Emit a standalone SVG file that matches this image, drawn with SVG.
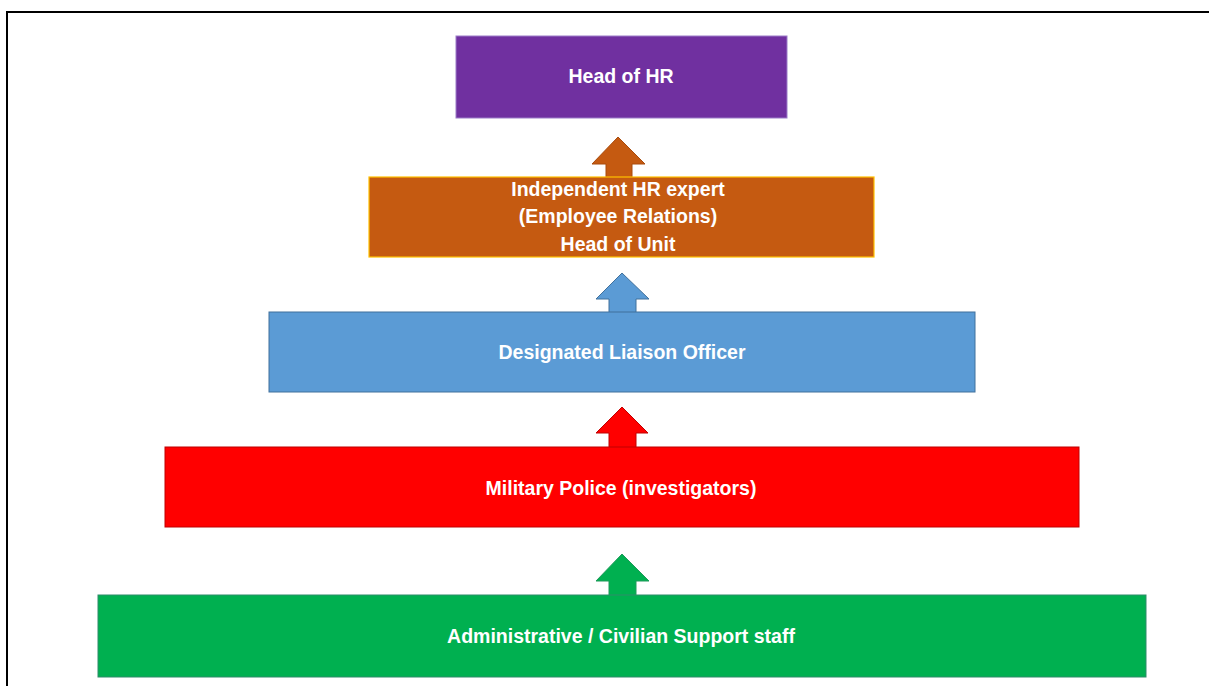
<svg xmlns="http://www.w3.org/2000/svg" width="1209" height="686" viewBox="0 0 1209 686">
<style>
.lbl{font-family:"Liberation Sans",Arial,sans-serif;font-weight:bold;font-size:19.5px;fill:#ffffff;text-anchor:middle}
</style>
<rect x="0" y="0" width="1209" height="686" fill="#ffffff"/>
<rect x="7" y="12" width="1215" height="700" fill="none" stroke="#000000" stroke-width="2"/>
<g id="connectors">
<polygon points="618,137 592,164 606,164 606,180 632,180 632,164 645,164" fill="#C55A11" stroke="#A84A0C" stroke-width="1"/>
<polygon points="622,273 596,299 609,299 609,315 636,315 636,299 649,299" fill="#5B9BD5" stroke="#41719C" stroke-width="1"/>
<polygon points="622,407 596,433 609,433 609,450 636,450 636,433 648,433" fill="#FF0000" stroke="#C00000" stroke-width="1"/>
<polygon points="622,554 596,581 609,581 609,598 636,598 636,581 649,581" fill="#00B050" stroke="#1E9A5A" stroke-width="1"/>
</g>
<g id="head-hr">
<rect x="456" y="36" width="331" height="82" fill="#7030A0" stroke="#9B7CC8" stroke-width="1"/>
<text class="lbl" x="621" y="83">Head of HR</text>
</g>
<g id="hr-expert">
<rect x="369" y="177" width="505" height="80" fill="#C55A11" stroke="#FFC000" stroke-width="1.2"/>
<text class="lbl" x="618" y="196">Independent HR expert</text>
<text class="lbl" x="618" y="223">(Employee Relations)</text>
<text class="lbl" x="618" y="251">Head of Unit</text>
</g>
<g id="liaison">
<rect x="269" y="312" width="706" height="80" fill="#5B9BD5" stroke="#41719C" stroke-width="1"/>
<text class="lbl" x="622" y="359">Designated Liaison Officer</text>
</g>
<g id="military-police">
<rect x="165" y="447" width="914" height="80" fill="#FF0000" stroke="#C00000" stroke-width="1"/>
<text class="lbl" x="621" y="495">Military Police (investigators)</text>
</g>
<g id="admin-staff">
<rect x="98" y="595" width="1048" height="82" fill="#00B050" stroke="#2E8B6A" stroke-width="1"/>
<text class="lbl" x="621" y="643">Administrative / Civilian Support staff</text>
</g>
</svg>
